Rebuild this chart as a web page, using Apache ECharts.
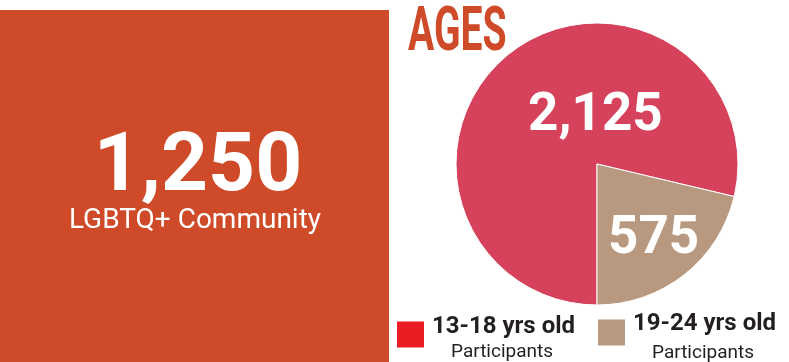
<!DOCTYPE html>
<html>
<head>
<meta charset="utf-8">
<script src="https://cdn.jsdelivr.net/npm/echarts@6/dist/echarts.min.js"></script>
<style>
    html, body { margin: 0; padding: 0; background: #fff; }
    #chart { width: 789px; height: 362px; }
</style>
</head>
<body>
<div id="chart"></div>
<script>
    // values
    const ageGroups = ['13-18 yrs old', '19-24 yrs old'];
    const participants = [2125, 575];
    const legendSub = 'Participants';
    const communityCount = 1250;
    const communityLabel = 'LGBTQ+ Community';
    const chartTitle = 'AGES';

    const sliceColors = ['#d6415b', '#b8997f'];
    const legendColors = ['#ec1c24', '#b8997f'];
    const orange = '#cf4a28';
    const dark = '#231f20';

    let chart = echarts.init(document.getElementById('chart'), null, {renderer: 'canvas'});

    function legendFor(i, left, top, h1, h2) {
        return {
            left: left,
            top: top,
            padding: 0,
            itemWidth: 27,
            itemHeight: 26,
            icon: 'rect',
            selectedMode: false,
            itemStyle: {borderWidth: 0},
            data: [{name: ageGroups[i], itemStyle: {color: legendColors[i], borderWidth: 0}}],
            formatter: function (name) {
                return '{a|' + name + '}\n{b|' + legendSub + '}';
            },
            textStyle: {
                rich: {
                    a: {
                        fontFamily: 'Roboto',
                        fontWeight: 'bold',
                        fontSize: 24,
                        color: dark,
                        lineHeight: h1,
                        padding: [0, 0, 0, 3]
                    },
                    b: {
                        fontFamily: 'Roboto',
                        fontSize: 19,
                        color: dark,
                        lineHeight: h2,
                        align: 'center'
                    }
                }
            }
        };
    }

    let options = {
        backgroundColor: '#fff',
        animation: false,
        graphic: [
            {
                type: 'rect',
                z: 0,
                shape: {x: 0, y: 10, width: 389, height: 352},
                style: {fill: orange}
            },
            {
                type: 'text',
                z: 1,
                x: 198,
                y: 169,
                style: {
                    text: echarts.format.addCommas(communityCount),
                    font: 'bold 82px Roboto',
                    fill: '#fff',
                    textAlign: 'center',
                    textVerticalAlign: 'middle'
                }
            },
            {
                type: 'text',
                z: 1,
                x: 195,
                y: 221,
                style: {
                    text: communityLabel,
                    font: '28px Roboto',
                    fill: '#fff',
                    textAlign: 'center',
                    textVerticalAlign: 'middle'
                }
            },
            {
                type: 'text',
                z: 1,
                x: 408,
                y: 34,
                scaleX: 0.63,
                style: {
                    text: chartTitle,
                    font: 'bold 62px Roboto',
                    fill: orange,
                    textAlign: 'left',
                    textVerticalAlign: 'middle'
                }
            }
        ],
        legend: [
            legendFor(0, 397, 315, 36, 15),
            legendFor(1, 598, 312, 41, 17)
        ],
        series: [
            {
                type: 'pie',
                center: [597, 164],
                radius: [0, 141],
                startAngle: 270,
                clockwise: true,
                itemStyle: {
                    borderColor: '#fff',
                    borderWidth: 1
                },
                label: {
                    position: 'inside',
                    formatter: function (p) {
                        return echarts.format.addCommas(p.value);
                    },
                    color: '#fff',
                    fontFamily: 'Roboto',
                    fontWeight: 'bold',
                    fontSize: 53
                },
                labelLayout: function (params) {
                    return params.dataIndex === 0 ? {dx: 44, dy: 10} : {dx: 11, dy: 18};
                },
                emphasis: {disabled: true},
                data: ageGroups.map(function (name, i) {
                    return {name: name, value: participants[i], itemStyle: {color: sliceColors[i]}};
                })
            }
        ]
    };
    chart.setOption(options);
</script>
</body>
</html>
